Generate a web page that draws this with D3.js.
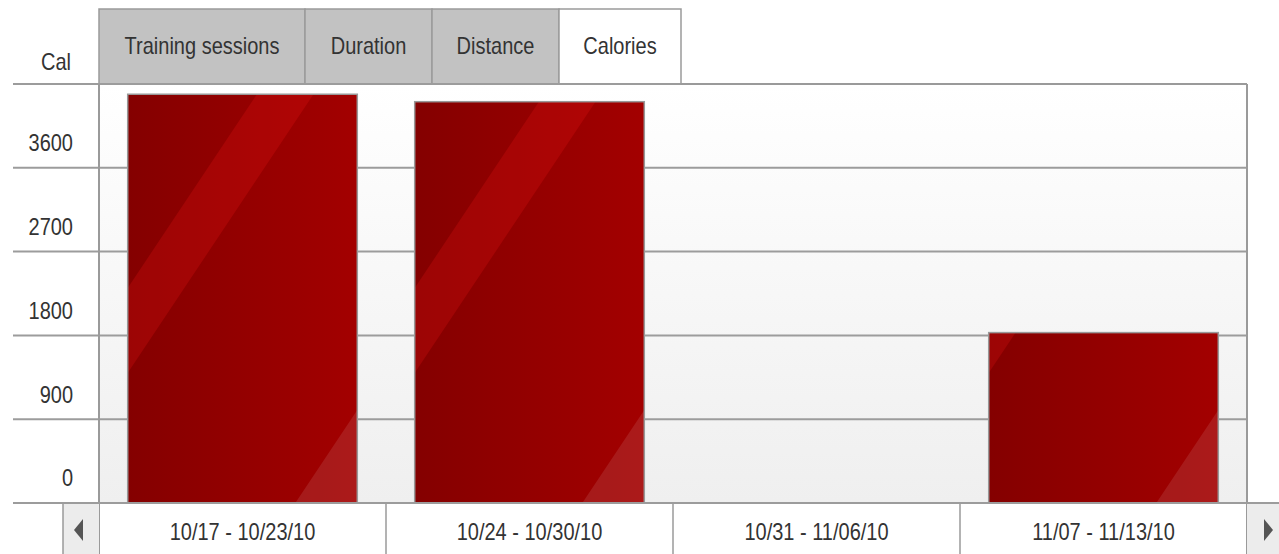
<!DOCTYPE html>
<html>
<head>
<meta charset="utf-8">
<script src="https://cdn.jsdelivr.net/npm/d3@7"></script>
<style>
  body { margin: 0; background: #fff; }
  svg { display: block; font-family: 'Liberation Sans', Arial, sans-serif; }
</style>
</head>
<body>
<div class="chart"></div>
<script>
// data
const weeks = ['10/17 - 10/23/10', '10/24 - 10/30/10', '10/31 - 11/06/10', '11/07 - 11/13/10'];
const calories = [4390, 4310, 0, 1830];
const yTicks = [0, 900, 1800, 2700, 3600];
const tabs = ['Training sessions', 'Duration', 'Distance', 'Calories'];
const activeTab = 'Calories';
const unit = 'Cal';

const width = 1279;
const height = 554;
const plot = { left: 99, right: 1247, top: 84, bottom: 503 };
const stretch = 1.2; // the source font renders taller than Liberation

const svg = d3.select('.chart').append('svg')
    .attr('width', width)
    .attr('height', height);

const defs = svg.append('defs');

const bg = defs.append('linearGradient')
    .attr('id', 'plotBg')
    .attr('x1', 0).attr('y1', 0).attr('x2', 0).attr('y2', 1);
bg.append('stop').attr('offset', '0%').attr('stop-color', '#ffffff');
bg.append('stop').attr('offset', '100%').attr('stop-color', '#efefef');

const barGrad = defs.append('linearGradient')
    .attr('id', 'barGrad')
    .attr('x1', 0).attr('y1', 0).attr('x2', 1).attr('y2', 0);
barGrad.append('stop').attr('offset', '0%').attr('stop-color', '#840000');
barGrad.append('stop').attr('offset', '100%').attr('stop-color', '#a30000');

// text helper: place at (tx, ty) centred vertically, stretched a bit
const label = (sel, tx, ty) => sel
    .attr('transform', (d, i) => `translate(${typeof tx === 'function' ? tx(d, i) : tx}, ${typeof ty === 'function' ? ty(d, i) : ty}) scale(1, ${stretch})`)
    .attr('dy', '0.35em')
    .attr('font-size', 20)
    .attr('fill', '#333');

// scales
const x = d3.scaleBand()
    .domain(weeks)
    .range([plot.left, plot.right])
    .paddingInner(0.2)
    .paddingOuter(0.1);

const xCell = d3.scaleBand()
    .domain(weeks)
    .range([plot.left, plot.right]);

const y = d3.scaleLinear()
    .domain([0, 4500])
    .range([plot.bottom, plot.top]);

// plot background
svg.append('rect')
    .attr('x', plot.left)
    .attr('y', plot.top)
    .attr('width', plot.right - plot.left)
    .attr('height', plot.bottom - plot.top)
    .attr('fill', 'url(#plotBg)');

// tabs
const tabEdges = [99, 305, 432, 559, 681];
const tabTop = 9;
const tabG = svg.append('g').attr('class', 'tabs');
tabs.forEach((t, i) => {
  const x0 = tabEdges[i];
  const x1 = tabEdges[i + 1];
  const active = t === activeTab;
  tabG.append('rect')
      .attr('x', x0)
      .attr('y', tabTop)
      .attr('width', x1 - x0)
      .attr('height', plot.top - tabTop)
      .attr('fill', active ? '#fff' : '#c2c2c2');
  // border: top + sides, bottom only for inactive
  const p = active
    ? `M${x0},${plot.top}V${tabTop}H${x1}V${plot.top}`
    : `M${x0},${plot.top}V${tabTop}H${x1}V${plot.top}Z`;
  tabG.append('path')
      .attr('d', p)
      .attr('fill', 'none')
      .attr('stroke', '#9a9a9a')
      .attr('stroke-width', 1.5);
  tabG.append('text')
      .call(label, (x0 + x1) / 2, 46)
      .attr('text-anchor', 'middle')
      .text(t);
});

// unit label
svg.append('text')
    .call(label, 71, 62)
    .attr('text-anchor', 'end')
    .text(unit);

// gridlines + y labels (labels sit above their line)
svg.append('g').selectAll('line')
    .data(yTicks.concat([4500]).filter(d => d > 0))
  .enter().append('line')
    .attr('x1', 13)
    .attr('x2', plot.right)
    .attr('y1', d => y(d))
    .attr('y2', d => y(d))
    .attr('stroke', '#9c9c9c')
    .attr('stroke-width', 2);

svg.append('g').selectAll('text')
    .data(yTicks)
  .enter().append('text')
    .call(label, 73, d => y(d) - 25)
    .attr('text-anchor', 'end')
    .text(d => d);

// top border of the plot, right of the active tab
svg.append('line')
    .attr('x1', 681).attr('x2', plot.right)
    .attr('y1', plot.top).attr('y2', plot.top)
    .attr('stroke', '#9a9a9a')
    .attr('stroke-width', 1.5);

// bars
const bars = svg.append('g').selectAll('g.bar')
    .data(weeks.map((w, i) => ({ week: w, value: calories[i] })).filter(d => d.value > 0))
  .enter().append('g')
    .attr('class', 'bar')
    .attr('transform', d => `translate(${x(d.week)}, ${y(0)})`);

const bw = x.bandwidth();

bars.append('clipPath')
    .attr('id', (d, i) => `clip${i}`)
  .append('rect')
    .attr('x', 0)
    .attr('y', d => y(d.value) - y(0))
    .attr('width', bw)
    .attr('height', d => y(0) - y(d.value));

bars.append('rect')
    .attr('x', 0)
    .attr('y', d => y(d.value) - y(0))
    .attr('width', bw)
    .attr('height', d => y(0) - y(d.value))
    .attr('fill', 'url(#barGrad)');

// glossy diagonal stripe
bars.append('path')
    .attr('clip-path', (d, i) => `url(#clip${i})`)
    .attr('d', `M0,-130L0,-215L${bw},${-(215 + 1.5 * bw)}L${bw},${-(130 + 1.5 * bw)}Z`)
    .attr('fill', '#ff1a1a')
    .attr('fill-opacity', 0.2);

// lighter bottom-right corner
bars.append('path')
    .attr('clip-path', (d, i) => `url(#clip${i})`)
    .attr('d', `M${bw - 62},0L${bw},0L${bw},-93Z`)
    .attr('fill', '#fff')
    .attr('fill-opacity', 0.1);

bars.append('rect')
    .attr('x', 0)
    .attr('y', d => y(d.value) - y(0))
    .attr('width', bw)
    .attr('height', d => y(0) - y(d.value))
    .attr('fill', 'none')
    .attr('stroke', '#999')
    .attr('stroke-width', 1.5);

// plot side borders
svg.append('line')
    .attr('x1', plot.left).attr('x2', plot.left)
    .attr('y1', plot.top).attr('y2', height)
    .attr('stroke', '#9a9a9a').attr('stroke-width', 2);
svg.append('line')
    .attr('x1', plot.right).attr('x2', plot.right)
    .attr('y1', plot.top).attr('y2', height)
    .attr('stroke', '#9a9a9a').attr('stroke-width', 2);

// bottom category row
const axisG = svg.append('g');

axisG.append('rect')
    .attr('x', 63).attr('y', plot.bottom)
    .attr('width', plot.left - 63).attr('height', height - plot.bottom)
    .attr('fill', '#ececec');
axisG.append('rect')
    .attr('x', plot.right).attr('y', plot.bottom)
    .attr('width', width - plot.right).attr('height', height - plot.bottom)
    .attr('fill', '#ececec');

axisG.append('line')
    .attr('x1', 63).attr('x2', 63)
    .attr('y1', plot.bottom).attr('y2', height)
    .attr('stroke', '#9a9a9a').attr('stroke-width', 1.5);

axisG.selectAll('line.sep')
    .data(weeks.slice(1))
  .enter().append('line')
    .attr('class', 'sep')
    .attr('x1', d => xCell(d)).attr('x2', d => xCell(d))
    .attr('y1', plot.bottom).attr('y2', height)
    .attr('stroke', '#9a9a9a').attr('stroke-width', 1.5);

axisG.append('line')
    .attr('x1', 13).attr('x2', width)
    .attr('y1', plot.bottom).attr('y2', plot.bottom)
    .attr('stroke', '#9c9c9c').attr('stroke-width', 2);

axisG.selectAll('text')
    .data(weeks)
  .enter().append('text')
    .call(label, d => xCell(d) + xCell.bandwidth() / 2, 532)
    .attr('text-anchor', 'middle')
    .text(d => d);

// scroll arrows
axisG.append('path')
    .attr('d', 'M74,530L83,519L83,541Z')
    .attr('fill', '#555');
axisG.append('path')
    .attr('d', 'M1273,530L1264,519L1264,541Z')
    .attr('fill', '#555');
</script>
</body>
</html>
